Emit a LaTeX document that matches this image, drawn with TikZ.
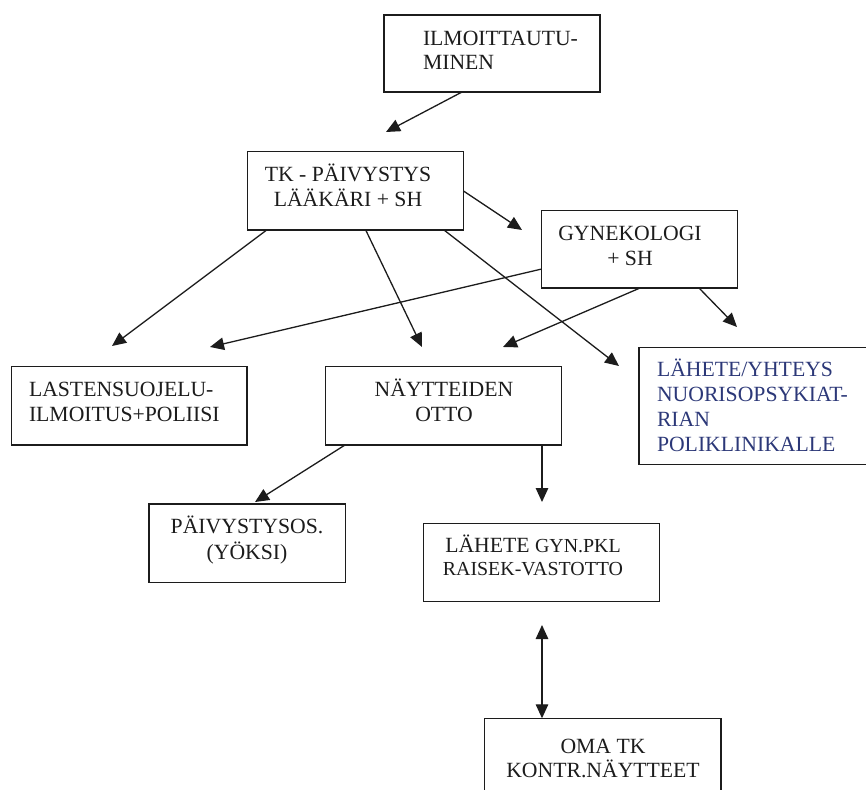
\documentclass[tikz,border=0pt]{standalone}
\usepackage{fontspec}
\setmainfont{Liberation Serif}
\usetikzlibrary{arrows.meta,calc}
\definecolor{navy}{RGB}{44,56,120}
\definecolor{ink}{RGB}{28,28,28}
\newcommand\fss{\fontsize{19.9}{22}\selectfont}
\newcommand\lns[3]{{\fontsize{21.7}{#2}\selectfont\begin{tabular}[t]{@{}#1@{}}#3\end{tabular}}}
\begin{document}
\begin{tikzpicture}[x=1pt,y=-1pt,
  box/.style={draw=ink, line width=1.4pt, inner sep=0pt, outer sep=0pt, anchor=north west},
  txt/.style={inner sep=0pt, outer sep=0pt, text=ink},
  arr/.style={draw=ink, line width=1.3pt, -{Triangle[length=14pt,width=12.5pt]}},
  arrb/.style={draw=ink, line width=1.3pt, {Triangle[length=14pt,width=12.5pt]}-{Triangle[length=14pt,width=12.5pt]}}
]
\useasboundingbox (0,0) rectangle (866,789);
\clip (0,0) rectangle (866,789);

% boxes
\node[box, minimum width=216pt, minimum height=77pt] (ilm) at (384,15) {};
\node[box, minimum width=216pt, minimum height=78.3pt] (tk) at (247.3,151.7) {};
\node[box, minimum width=196pt, minimum height=77.3pt] (gyn) at (541.7,210.7) {};
\node[box, minimum width=235.3pt, minimum height=78.3pt] (las) at (11.7,366.7) {};
\node[box, minimum width=236pt, minimum height=78.3pt] (nay) at (325.7,366.7) {};
\node[box, minimum width=300pt, minimum height=117pt] (lah) at (639,347.3) {};
\node[box, minimum width=196.7pt, minimum height=78.7pt] (pai) at (149,504) {};
\node[box, minimum width=236pt, minimum height=78pt] (lgy) at (423.3,523.7) {};
\node[box, minimum width=236.7pt, minimum height=100pt] (oma) at (484.3,718.3) {};

% texts
\node[txt, anchor=base west] (ilmt) at (423,45.5) {\lns{l}{24.5}{ILMOITTAUTU-\\MINEN}};
\node[txt, anchor=base] (tkt) at (348,181.5) {\lns{c}{25}{TK - PÄIVYSTYS\\LÄÄKÄRI + SH}};
\node[txt, anchor=base] (gynt) at (630,240) {\lns{c}{25.5}{GYNEKOLOGI\\+ SH}};
\node[txt, anchor=base west] (last) at (29,396.7) {\lns{l}{25}{LASTENSUOJELU-\\ILMOITUS+POLIISI}};
\node[txt, anchor=base] (nayt) at (444,396.7) {\lns{c}{24.5}{NÄYTTEIDEN\\OTTO}};
\node[txt, anchor=base west, text=navy] (laht) at (657,376.5) {\lns{l}{25}{LÄHETE/YHTEYS\\NUORISOPSYKIAT-\\RIAN\\POLIKLINIKALLE}};
\node[txt, anchor=base] (pait) at (247,533.3) {\lns{c}{26.5}{PÄIVYSTYSOS.\\(YÖKSI)}};
\node[txt, anchor=base] (lgyt) at (533,552) {\lns{c}{23}{LÄHETE {\fss GYN.PKL}\\{\fss RAISEK-VASTOTTO}}};
\node[txt, anchor=base] (omat) at (603,753) {\lns{c}{23}{OMA TK\\KONTR.NÄYTTEET}};

% free arrow ends
\coordinate (e1) at (386,132);
\coordinate (e2) at (522,230);
\coordinate (e3) at (112,346);
\coordinate (e4) at (422,347);
\coordinate (e5) at (619,366);
\coordinate (e6) at (210,347);
\coordinate (e7) at (503,347);
\coordinate (e8) at (737,327);
\coordinate (e9) at (255,502);
\coordinate (e10) at (542,502);
\coordinate (e11) at (542,625);

% connectors
\draw[arr] ([xshift=78pt]ilm.south west) -- (e1);
\draw[arr] (tk.east) -- (e2);
\draw[arr] ([xshift=19.4pt]tk.south west) -- (e3);
\draw[arr] ([xshift=118.4pt]tk.south west) -- (e4);
\draw[arr] ([xshift=196.7pt]tk.south west) -- (e5);
\draw[arr] ([yshift=19pt]gyn.south west) -- (e6);
\draw[arr] ([xshift=98.3pt]gyn.south west) -- (e7);
\draw[arr] ([xshift=157.3pt]gyn.south west) -- (e8);
\draw[arr] ([xshift=19.3pt]nay.south west) -- (e9);
\draw[arr] ([xshift=216.3pt]nay.south west) -- (e10);
\draw[arrb] ([xshift=57.7pt]oma.north west) -- (e11);
\end{tikzpicture}
\end{document}
